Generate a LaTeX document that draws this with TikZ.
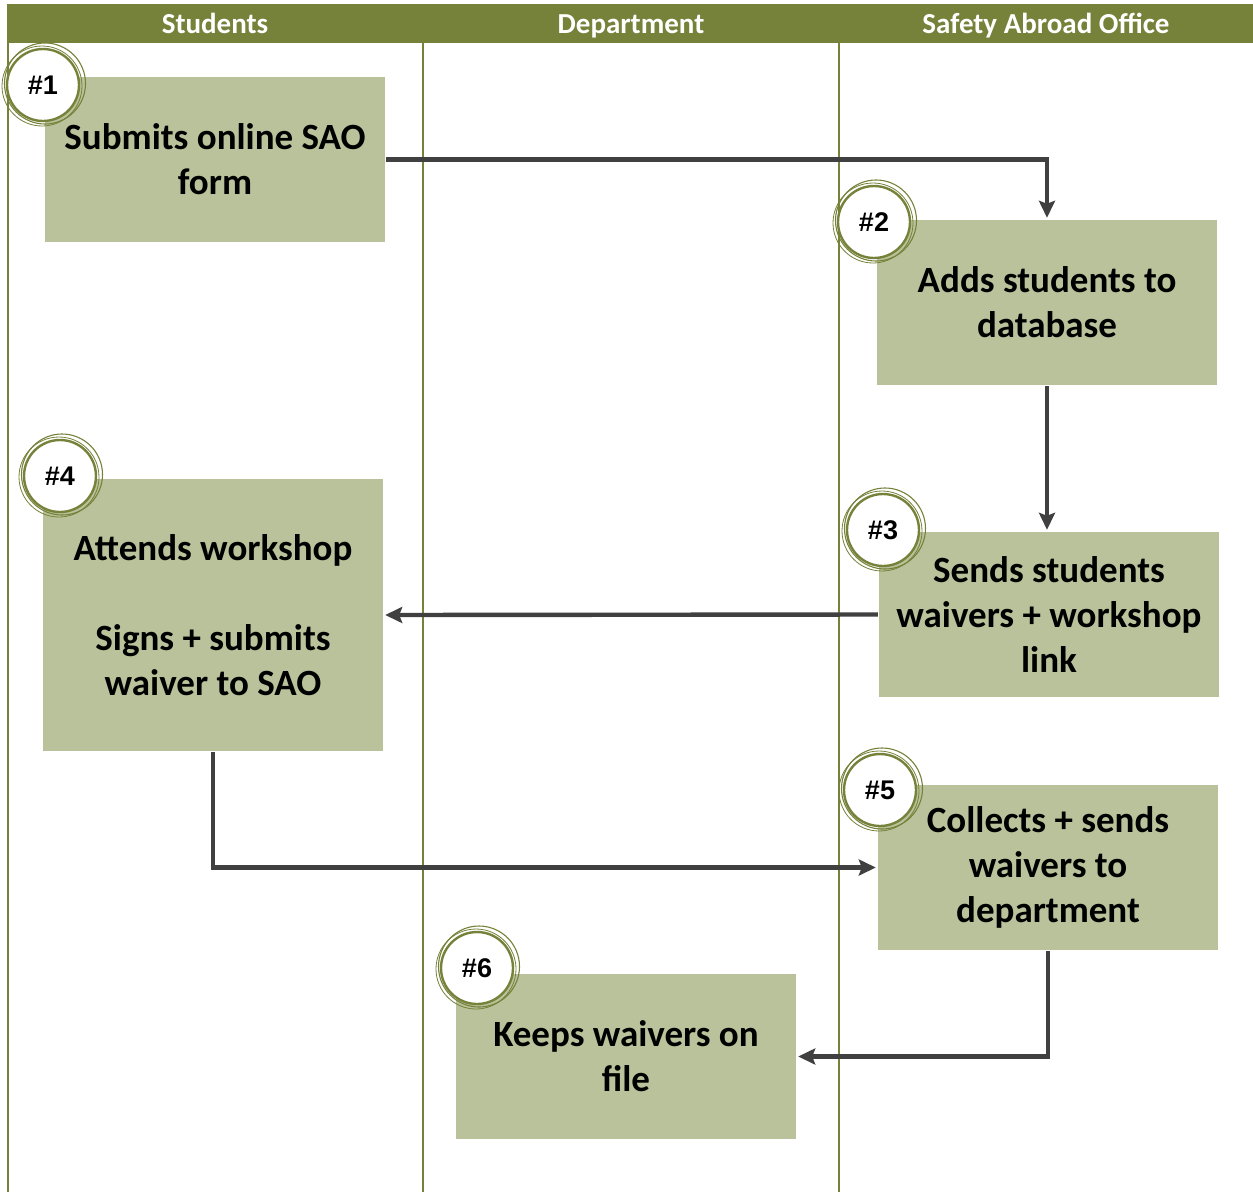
\documentclass[tikz,border=0pt]{standalone}
\usepackage{fontspec}
\setmainfont{Carlito}
\newfontfamily\badgefont{Liberation Sans}
\usetikzlibrary{arrows.meta}
\definecolor{olivehdr}{HTML}{76813A}
\definecolor{boxfill}{HTML}{B9C29A}
\definecolor{arrowgray}{HTML}{404040}
\tikzset{
  lane/.style={draw=olivehdr, line width=1.6pt},
  hdrtext/.style={text=white, anchor=base, font=\fontsize{29}{34}\selectfont\bfseries},
  stepbox/.style={fill=boxfill, minimum width=340pt, minimum height=165pt, align=center, inner sep=0pt,
    font=\fontsize{37}{45}\selectfont\bfseries},
  badge/.style={circle, fill=white, draw=olivehdr, line width=2.4pt,
    minimum size=72pt, inner sep=0pt, font=\badgefont\fontsize{27}{30}\selectfont\bfseries},
  ring/.style={draw=olivehdr, line width=1.1pt},
  flow/.style={draw=arrowgray, line width=4.4pt, -{Stealth[length=17pt,width=16pt,inset=3pt]}, shorten >=2pt, shorten <=1pt},
}
\begin{document}
\begin{tikzpicture}[x=1pt,y=-1pt]
\useasboundingbox (0,0) rectangle (1253,1192);
\fill[white] (0,0) rectangle (1253,1192);
% header
\fill[olivehdr] (7,4) rectangle (1253,42.5);
\node[hdrtext] (h1) at (215,33) {Students};
\node[hdrtext] (h2) at (631,33) {Department};
\node[hdrtext] (h3) at (1046,33) {Safety Abroad Office};
% lanes
\draw[lane] (8,42) -- (8,1192);
\draw[lane] (423,42) -- (423,1192);
\draw[lane] (839,42) -- (839,1192);
% boxes
\node[stepbox] (b1) at (215,159.5) {Submits online SAO\\form};
\node[stepbox] (b2) at (1047,302.5) {Adds students to\\database};
\node[stepbox] (b3) at (1049,614.5) {Sends students\\waivers + workshop\\link};
\node[stepbox, minimum height=272pt] (b4) at (213,615) {Attends workshop\\[45pt]Signs + submits\\waiver to SAO};
\node[stepbox] (b5) at (1048,867.5) {Collects + sends\\waivers to\\department};
\node[stepbox] (b6) at (626,1056.5) {Keeps waivers on\\file};
% badges
\node[badge] (n1) at (43,85) {\#1};
\node[badge] (n2) at (874,222) {\#2};
\node[badge] (n3) at (883,530) {\#3};
\node[badge] (n4) at (60,476) {\#4};
\node[badge] (n5) at (880,790) {\#5};
\node[badge] (n6) at (477,968) {\#6};
\foreach \n in {n1,n2,n3,n4,n5,n6}{
  \draw[ring] ([shift={(2,-1.5)}]\n.center) circle[radius=40.5];
  \draw[ring, line width=0.8pt] ([shift={(-1,1)}]\n.center) circle[radius=40];
}
% connectors
\draw[flow] (b1.east) -| (b2.north);
\draw[flow] (b2.south) -- (b2.south |- b3.north);
\draw[flow] (b3.west) -- (b4.east);
\draw[flow] (b4.south) |- (b5.west);
\draw[flow] (b5.south) |- (b6.east);
\end{tikzpicture}
\end{document}
